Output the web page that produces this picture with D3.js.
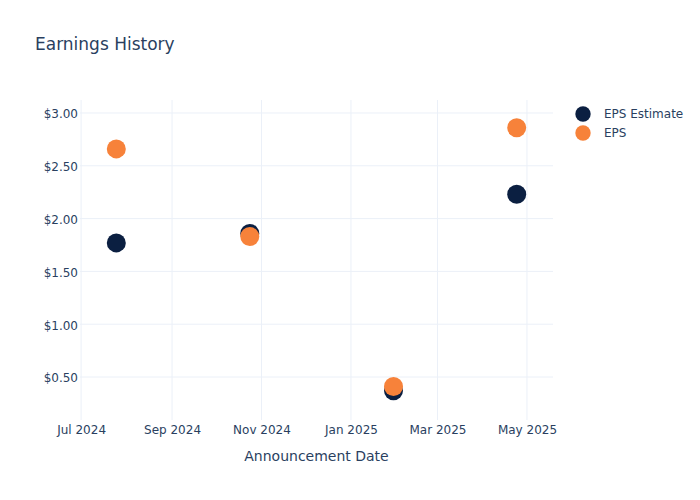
<!DOCTYPE html>
<html>
  <head>
    <style>
      body { margin: 0; background: #fff; }
      svg { font-family: "DejaVu Sans", Verdana, sans-serif; }
    </style>
  </head>
  <body>
    <script src="https://d3js.org/d3.v7.min.js"></script>
    <script type="text/javascript">

      // announcement dates and values
      const dates = ['2024-07-25', '2024-10-24', '2025-01-30', '2025-04-24'];
      const epsEstimate = [1.77, 1.86, 0.37, 2.23];
      const eps = [2.66, 1.83, 0.41, 2.86];
      const yTicks = [0.5, 1, 1.5, 2, 2.5, 3];
      const seriesNames = ['EPS Estimate', 'EPS'];

      const width = 700;
      const height = 500;
      const margin = { top: 100, right: 147, bottom: 80, left: 80 };
      const colors = ['#0b1f41', '#f7823a'];
      const textColor = '#2a3f5f';
      const gridColor = '#ebf0f8';

      const parse = d3.utcParse('%Y-%m-%d');
      const dateValues = dates.map(parse);

      const svg = d3.select('body')
        .append('svg')
        .attr('width', width)
        .attr('height', height);

      const xScale = d3.scaleUtc()
        .domain([
          d3.utcHour.offset(d3.min(dateValues), -594),
          d3.utcHour.offset(d3.max(dateValues), 594)
        ])
        .range([margin.left, width - margin.right]);

      const allValues = epsEstimate.concat(eps);
      const yScale = d3.scaleLinear()
        .domain([d3.min(allValues) - 0.277, d3.max(allValues) + 0.263])
        .range([height - margin.bottom, margin.top]);

      // grid lines
      const xTicks = d3.utcMonth.every(2).range(d3.utcMonth.ceil(xScale.domain()[0]), xScale.domain()[1]);
      const xTickValues = xTicks.filter((d) => d.getUTCMonth() % 2 === 0);

      svg.append('g')
        .selectAll('line')
        .data(xTickValues)
        .enter()
        .append('line')
        .attr('x1', (d) => xScale(d))
        .attr('x2', (d) => xScale(d))
        .attr('y1', margin.top)
        .attr('y2', height - margin.bottom)
        .attr('stroke', gridColor)
        .attr('stroke-width', 1);

      svg.append('g')
        .selectAll('line')
        .data(yTicks)
        .enter()
        .append('line')
        .attr('x1', margin.left)
        .attr('x2', width - margin.right)
        .attr('y1', (d) => yScale(d))
        .attr('y2', (d) => yScale(d))
        .attr('stroke', gridColor)
        .attr('stroke-width', 1);

      // axes (labels only, plotly style)
      const axisBottom = d3.axisBottom(xScale)
        .tickValues(xTickValues)
        .tickFormat(d3.utcFormat('%b %Y'))
        .tickSize(0)
        .tickPadding(5);
      const gx = svg.append('g')
        .attr('transform', `translate(0, ${height - margin.bottom})`)
        .call(axisBottom);
      gx.select('.domain').remove();
      gx.selectAll('text')
        .attr('fill', textColor)
        .attr('font-size', 12)
        .attr('font-family', '"DejaVu Sans", sans-serif');

      const axisLeft = d3.axisLeft(yScale)
        .tickValues(yTicks)
        .tickFormat((d) => '$' + d3.format('.2f')(d))
        .tickSize(0)
        .tickPadding(2);
      const gy = svg.append('g')
        .attr('transform', `translate(${margin.left}, 0)`)
        .call(axisLeft);
      gy.select('.domain').remove();
      gy.selectAll('text')
        .attr('dy', '0.4em')
        .attr('fill', textColor)
        .attr('font-size', 12)
        .attr('font-family', '"DejaVu Sans", sans-serif');

      // points
      const series = [epsEstimate, eps];
      series.forEach((values, i) => {
        svg.append('g')
          .selectAll('circle')
          .data(values)
          .enter()
          .append('circle')
          .attr('cx', (d, j) => xScale(dateValues[j]))
          .attr('cy', (d) => yScale(d))
          .attr('r', 9.5)
          .attr('fill', colors[i]);
      });

      // title
      svg.append('text')
        .attr('x', 35)
        .attr('y', 50)
        .attr('fill', textColor)
        .attr('font-size', 17)
        .text('Earnings History');

      svg.append('text')
        .attr('x', (margin.left + width - margin.right) / 2)
        .attr('y', 461)
        .attr('text-anchor', 'middle')
        .attr('fill', textColor)
        .attr('font-size', 14)
        .text('Announcement Date');

      // legend
      const legend = svg.append('g')
        .selectAll('.legend')
        .data(seriesNames)
        .enter()
        .append('g')
        .attr('class', 'legend')
        .attr('transform', (d, i) => `translate(583, ${114 + i * 19})`);

      legend.append('circle')
        .attr('r', 7.7)
        .attr('fill', (d, i) => colors[i]);

      legend.append('text')
        .attr('x', 21)
        .attr('dy', '0.35em')
        .attr('fill', textColor)
        .attr('font-size', 12)
        .text((d) => d);

    </script>
  </body>
</html>
